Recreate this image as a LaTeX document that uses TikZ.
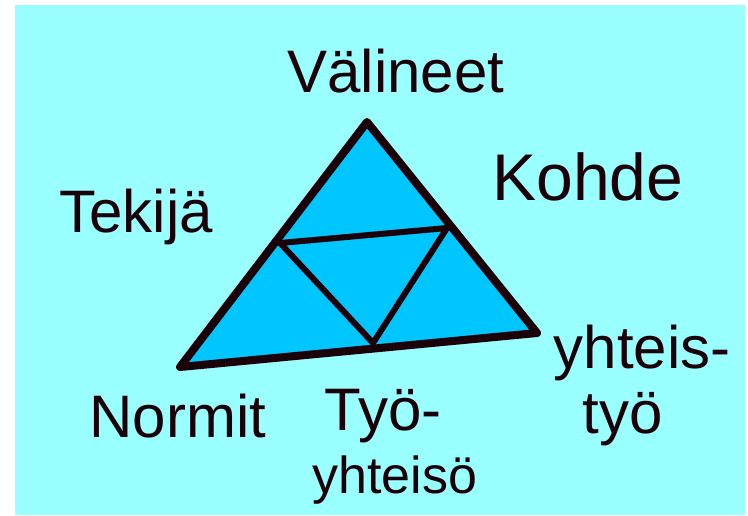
\documentclass[tikz,border=0pt]{standalone}
\usepackage{fontspec}
\setmainfont{Liberation Sans}
\usepackage{tikz}
\usetikzlibrary{positioning}
\definecolor{PaperCyan}{HTML}{99FFFF}
\definecolor{TriBlue}{HTML}{00C6FF}
\definecolor{InkBlack}{HTML}{1A0008}

\begin{document}
\begin{tikzpicture}[x=1pt, y=-1pt, font=\fontsize{60}{66}\selectfont,
  word/.style={anchor=base, inner sep=0pt, text=InkBlack}]
  \useasboundingbox (0,0) rectangle (748,515);
  \fill[PaperCyan] (15,5) rectangle (745,515);
  % big triangle and the inner one
  \coordinate (apex) at (367,122);
  \coordinate (lowL) at (180,367);
  \coordinate (lowR) at (537,333);
  \coordinate (midL) at (280,243);
  \coordinate (midR) at (447,228);
  \coordinate (midB) at (373,343);
  \fill[TriBlue] (apex) -- (lowR) -- (lowL) -- cycle;
  \draw[InkBlack, line width=8pt, line join=round] (apex) -- (lowR) -- (lowL) -- cycle;
  \draw[InkBlack, line width=6pt, line join=round] (midL) -- (midR) -- (midB) -- cycle;
  % labels
  \node[word] (tools) at (396,92) {Välineet};
  \node[word, font=\fontsize{66}{70}\selectfont] (object) at (588,200) {Kohde};
  \node[word] (subject) at (136,232) {Tekijä};
  \node[word] (rules) at (178,437) {Normit};
  \node[word] (commA) at (383,430) {Työ-};
  \node[word, font=\fontsize{52}{60}\selectfont] (commB) at (395,493) {yhteisö};
  \node[word] (labourA) at (642,368) {yhteis-};
  \node[word] (labourB) at (623,433) {työ};
\end{tikzpicture}
\end{document}
